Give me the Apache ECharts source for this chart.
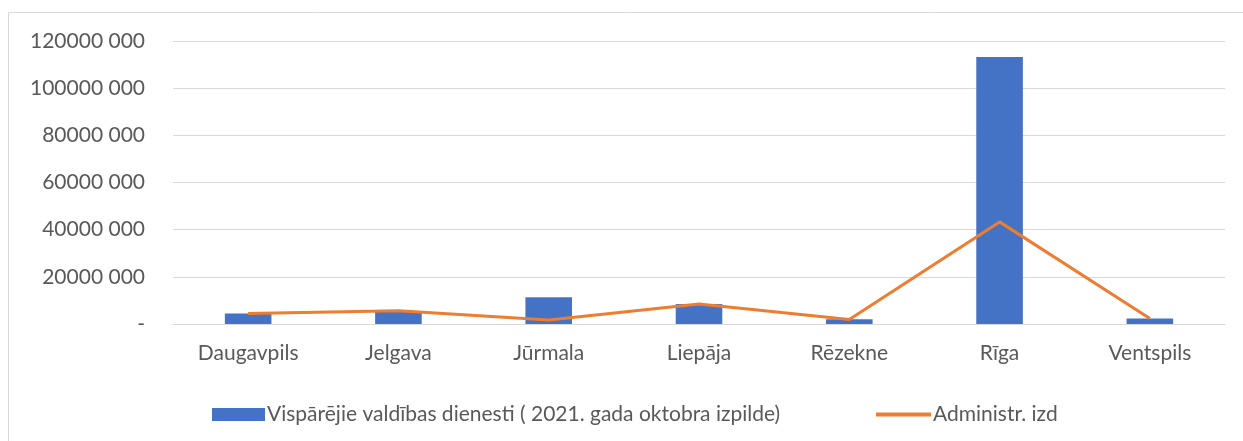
<!DOCTYPE html>
<html>
<head>
<meta charset="utf-8">
<script src="https://cdn.jsdelivr.net/npm/echarts@6/dist/echarts.min.js"></script>
<style>
html,body{margin:0;padding:0;background:#fff;}
#main{width:1243px;height:441px;}
</style>
</head>
<body>
<div id="main"></div>
<script>
var cities = ["Daugavpils","Jelgava","Jūrmala","Liepāja","Rēzekne","Rīga","Ventspils"];
var barName = "Vispārējie valdības dienesti ( 2021. gada oktobra izpilde)";
var lineName = "Administr. izd";
var barValues = [4500000, 5200000, 11300000, 8500000, 2000000, 113200000, 2300000];
var lineValues = [4500000, 5600000, 1700000, 8500000, 1900000, 43300000, 2300000];

var txt = "#595959";
var fnt = "Lato";

var chart = echarts.init(document.getElementById("main"));
var option = {
    animation: false,
    textStyle: {fontFamily: fnt},
    graphic: [{
        type: "rect",
        shape: {x: 8.5, y: 12.5, width: 1260, height: 460},
        style: {fill: null, stroke: "#d9d9d9", lineWidth: 1}
    }],
    grid: {left: 173, right: 18, top: 41, bottom: 117},
    legend: [
        {
            left: 207,
            top: 399,
            itemWidth: 53,
            itemHeight: 13,
            textStyle: {color: txt, fontSize: 21, fontFamily: fnt, padding: [0, 0, 0, -3]},
            data: [{name: barName, icon: "rect"}]
        },
        {
            left: 871,
            top: 399,
            itemWidth: 55,
            itemHeight: 4,
            textStyle: {color: txt, fontSize: 21, fontFamily: fnt, padding: [0, 0, 0, -3]},
            data: [{name: lineName, icon: "rect"}]
        }
    ],
    xAxis: {
        type: "category",
        data: cities,
        axisLine: {lineStyle: {color: "#d9d9d9", width: 1}},
        axisTick: {show: false},
        axisLabel: {color: txt, fontSize: 21, margin: 19}
    },
    yAxis: {
        type: "value",
        min: 0,
        max: 120000000,
        interval: 20000000,
        axisLine: {show: false},
        axisTick: {show: false},
        splitLine: {lineStyle: {color: "#d9d9d9", width: 1}},
        axisLabel: {
            color: txt,
            fontSize: 21,
            margin: 28,
            formatter: function (v) {
                if (v === 0) return "-";
                return Math.floor(v / 1000) + " 000";
            }
        }
    },
    series: [
        {
            name: barName,
            type: "bar",
            data: barValues,
            barCategoryGap: "69%",
            itemStyle: {color: "#4472C4"}
        },
        {
            name: lineName,
            type: "line",
            data: lineValues,
            symbol: "none",
            lineStyle: {color: "#ED7D31", width: 3},
            itemStyle: {color: "#ED7D31"}
        }
    ]
};
chart.setOption(option);
</script>
</body>
</html>
